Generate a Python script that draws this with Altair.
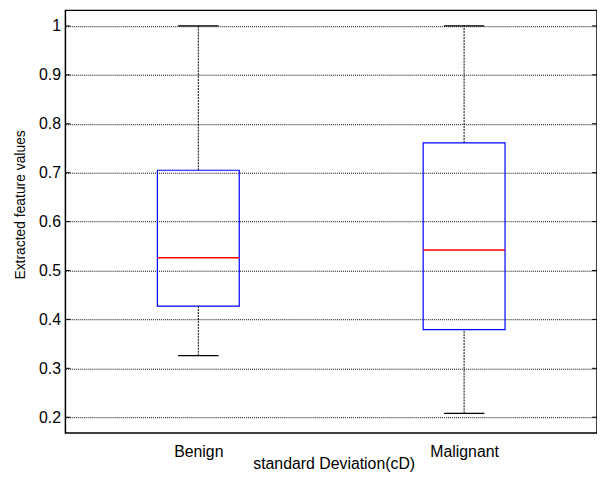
import altair as alt
import pandas as pd

# ---- data ----
categories = ["Benign", "Malignant"]
lower_whisker = [0.326, 0.208]
q1 = [0.427, 0.379]
median = [0.526, 0.542]
q3 = [0.705, 0.761]
upper_whisker = [1.0, 1.0]
y_ticks = [0.2, 0.3, 0.4, 0.5, 0.6, 0.7, 0.8, 0.9, 1.0]

# ---- styling constants ----
BOX_HALF = 0.154
CAP_HALF = 0.076
FONT = "Liberation Sans"
W, H = 537, 427

pos = [i + 1 for i in range(len(categories))]
df = pd.DataFrame({
    "cat": categories,
    "pos": pos,
    "lw": lower_whisker,
    "q1": q1,
    "med": median,
    "q3": q3,
    "uw": upper_whisker,
})
df["xl"] = df["pos"] - BOX_HALF
df["xr"] = df["pos"] + BOX_HALF
df["cl"] = df["pos"] - CAP_HALF
df["cr"] = df["pos"] + CAP_HALF

ticks_df = pd.DataFrame({"v": y_ticks})

label_expr = " : ".join(
    [f"datum.value == {p} ? '{c}'" for p, c in zip(pos, categories)]
) + " : ''"

xscale = alt.Scale(domain=[0.5, len(categories) + 0.5], nice=False, zero=False)
yscale = alt.Scale(domain=[0.1676, 1.0318], nice=False, zero=False)

x_axis = alt.Axis(
    values=pos, labelExpr=label_expr, ticks=False, grid=False, domain=False,
    title="standard Deviation(cD)", labelFont=FONT, labelFontSize=16,
    labelColor="black", labelPadding=11, titleFont=FONT, titleFontSize=16,
    titleFontWeight="normal", titleColor="black", titleBaseline="top",
    titleY=23, titleX=271,
)
y_axis = alt.Axis(
    values=y_ticks, format="~g", ticks=False, domain=False, grid=True,
    gridColor="black", gridDash=[1, 1], gridWidth=1, gridOpacity=1,
    title="Extracted feature values", labelFont=FONT, labelFontSize=16,
    labelColor="black", labelPadding=5, titleFont=FONT, titleFontSize=14,
    titleFontWeight="normal", titleColor="black", titleBaseline="middle",
    titleX=-45, titleY=196,
)

base = alt.Chart(df)

box = base.mark_rect(fillOpacity=0, stroke="#0000ff", strokeWidth=1.2).encode(
    x=alt.X("xl:Q", scale=xscale, axis=x_axis),
    x2="xr",
    y=alt.Y("q1:Q", scale=yscale, axis=y_axis),
    y2="q3",
)
med = base.mark_rule(color="#ff0000", strokeWidth=1.5).encode(
    x=alt.X("xl:Q", scale=xscale, axis=x_axis),
    x2="xr",
    y=alt.Y("med:Q", scale=yscale, axis=y_axis),
)
up_wh = base.mark_rule(color="black", strokeWidth=1, strokeDash=[2, 1]).encode(
    x=alt.X("pos:Q", scale=xscale, axis=x_axis),
    y=alt.Y("q3:Q", scale=yscale, axis=y_axis),
    y2="uw",
)
lo_wh = base.mark_rule(color="black", strokeWidth=1, strokeDash=[2, 1]).encode(
    x=alt.X("pos:Q", scale=xscale, axis=x_axis),
    y=alt.Y("lw:Q", scale=yscale, axis=y_axis),
    y2="q1",
)
up_cap = base.mark_rule(color="black", strokeWidth=1.2).encode(
    x=alt.X("cl:Q", scale=xscale, axis=x_axis),
    x2="cr",
    y=alt.Y("uw:Q", scale=yscale, axis=y_axis),
)
lo_cap = base.mark_rule(color="black", strokeWidth=1.2).encode(
    x=alt.X("cl:Q", scale=xscale, axis=x_axis),
    x2="cr",
    y=alt.Y("lw:Q", scale=yscale, axis=y_axis),
)

# inward axis ticks (MATLAB style) on left and right edges
tick_base = alt.Chart(ticks_df)
left_ticks = tick_base.mark_rule(color="black", strokeWidth=1).encode(
    x=alt.value(0), x2=alt.value(5),
    y=alt.Y("v:Q", scale=yscale, axis=y_axis),
)
right_ticks = tick_base.mark_rule(color="black", strokeWidth=1).encode(
    x=alt.value(W - 5), x2=alt.value(W),
    y=alt.Y("v:Q", scale=yscale, axis=y_axis),
)

chart = alt.layer(
    box, med, up_wh, lo_wh, up_cap, lo_cap, left_ticks, right_ticks
).properties(
    width=W,
    height=H,
    autosize=alt.AutoSizeParams(type="none"),
    padding={"left": 58, "top": 0, "right": 0, "bottom": 45},
    background="white",
).configure_view(stroke="black", strokeWidth=1.5)

chart.save("out.html", embed_options={"renderer": "svg", "actions": False})
